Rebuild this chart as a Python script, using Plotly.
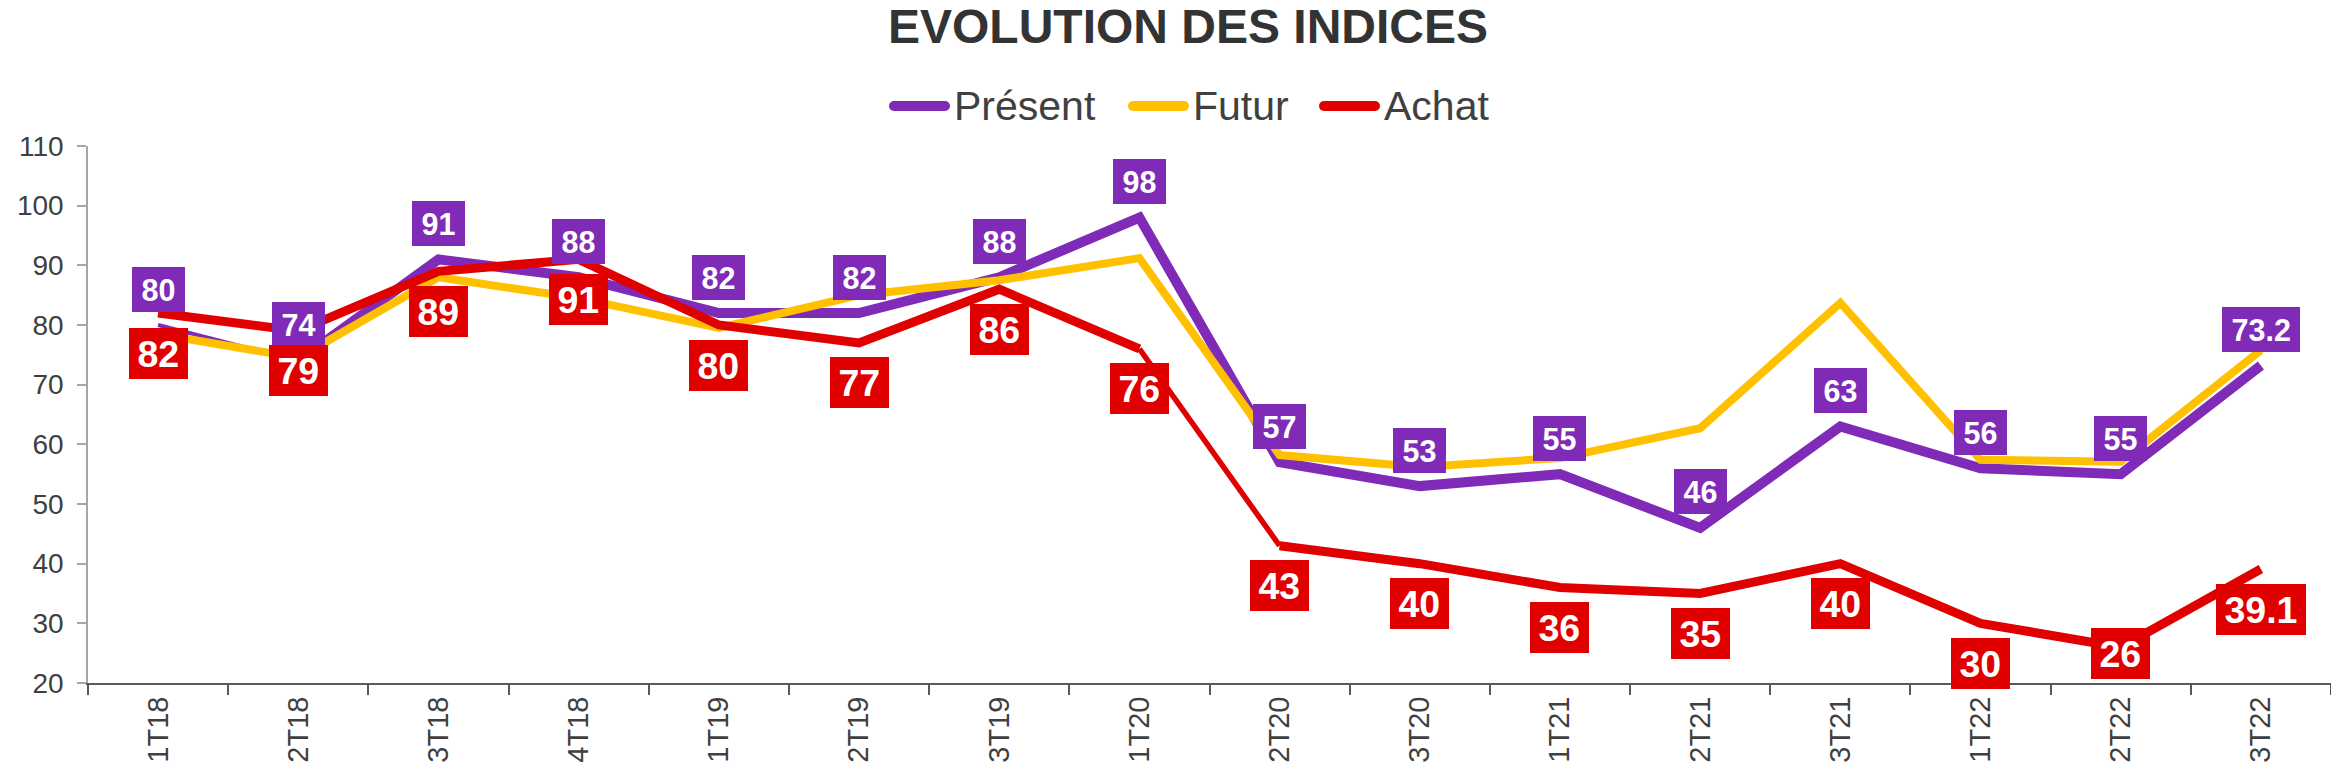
import plotly.graph_objects as go

# ---------------- data ----------------
categories = ["1T18", "2T18", "3T18", "4T18", "1T19", "2T19", "3T19", "1T20",
              "2T20", "3T20", "1T21", "2T21", "3T21", "1T22", "2T22", "3T22"]
present = [80, 74, 91, 88, 82, 82, 88, 98, 57, 53, 55, 46, 63, 56, 55, 73.2]
futur = [78.5, 74.5, 88, 84.5, 79.5, 85, 87.5, 91.2, 58.2, 56.2, 57.7, 62.7, 83.7, 57.4, 57.1, 75.8]
achat = [82, 79, 89, 91, 80, 77, 86, 76, 43, 40, 36, 35, 40, 30, 26, 39.1]
series_names = ["Présent", "Futur", "Achat"]

y_min, y_max, y_step = 20, 110, 10

# ---------------- style ----------------
W, H = 2331, 778
M = dict(l=88, r=0, t=146, b=95, autoexpand=False)
FONT = "Liberation Sans, Arial, sans-serif"
TXT = "#404040"
C_PRES = "#7F2BB7"
C_FUT = "#FFC000"
C_ACH = "#E00000"
colors = [C_PRES, C_FUT, C_ACH]

fig = go.Figure()


def add_segment(xs, ys, color, width, name):
    fig.add_trace(go.Scatter(x=xs, y=ys, name=name, mode="lines", legendgroup=name,
                             showlegend=False,
                             line=dict(color=color, width=width)))


# Présent: thin first segment, thick afterwards
add_segment(categories[1:], present[1:], C_PRES, 10, series_names[0])
add_segment(categories[0:2], present[0:2], C_PRES, 4, series_names[0])
# Futur
add_segment(categories, futur, C_FUT, 8, series_names[1])
# Achat: thinner segment 1T20 -> 2T20
add_segment(categories[:8], achat[:8], C_ACH, 9, series_names[2])
add_segment(categories[7:9], achat[7:9], C_ACH, 5.5, series_names[2])
add_segment(categories[8:], achat[8:], C_ACH, 9, series_names[2])

plot_h = H - M["t"] - M["b"]
plot_w = W - M["l"] - M["r"]
ppu = plot_h / (y_max - y_min)


def box_width(txt, fs, extra):
    w = 0
    for ch in txt:
        w += 0.278 if ch == "." else 0.556
    return w * fs + extra


annotations = []
shapes = []
# Présent labels (above)
fs_p = 30.5
for c, v in zip(categories, present):
    t = f"{v:g}"
    annotations.append(dict(
        x=c, y=v, xref="x", yref="y", text=f"<b>{t}</b>", showarrow=False,
        font=dict(family=FONT, size=fs_p, color="white"),
        bgcolor=C_PRES, borderpad=0, borderwidth=0,
        width=box_width(t, fs_p, 19), height=45,
        xanchor="center", yanchor="middle", yshift=36))

# Achat labels (below)
fs_a = 37.5
half_box = 26
for c, v in zip(categories, achat):
    t = f"{v:g}"
    shift = -40
    if (v - y_min) * ppu - 40 - half_box < -10:
        shift = -6
    annotations.append(dict(
        x=c, y=v, xref="x", yref="y", text=f"<b>{t}</b>", showarrow=False,
        font=dict(family=FONT, size=fs_a, color="white"),
        bgcolor=C_ACH, borderpad=0, borderwidth=0,
        width=box_width(t, fs_a, 17), height=51,
        xanchor="center", yanchor="middle", yshift=shift))

# Legend (drawn as line + text, Excel-like long symbols)
LEG_X = [889, 1128, 1319]   # left edge of each legend line (px)
LEG_Y = 106                 # vertical centre (px from top)
LEG_LEN = 61
for name, col, lx in zip(series_names, colors, LEG_X):
    shapes.append(dict(type="line", xref="paper", yref="paper",
                       x0=(lx + 5 - M["l"]) / plot_w, x1=(lx + LEG_LEN - 5 - M["l"]) / plot_w,
                       y0=(H - M["b"] - LEG_Y) / plot_h, y1=(H - M["b"] - LEG_Y) / plot_h,
                       line=dict(color=col, width=10)))
    for cx in (lx + 5, lx + LEG_LEN - 5):
        shapes.append(dict(type="circle", xref="paper", yref="paper",
                           x0=(cx - 5 - M["l"]) / plot_w, x1=(cx + 5 - M["l"]) / plot_w,
                           y0=(H - M["b"] - LEG_Y - 5) / plot_h,
                           y1=(H - M["b"] - LEG_Y + 5) / plot_h,
                           fillcolor=col, line=dict(width=0)))
    annotations.append(dict(
        x=(lx + LEG_LEN + 2 - M["l"]) / plot_w, y=(H - M["b"] - LEG_Y) / plot_h,
        xref="paper", yref="paper", text=name, showarrow=False,
        xanchor="left", yanchor="middle",
        font=dict(family=FONT, size=41, color=TXT)))

fig.update_layout(
    width=W, height=H, margin=M,
    paper_bgcolor="white", plot_bgcolor="white",
    font=dict(family=FONT, color=TXT),
    title=dict(text="EVOLUTION DES INDICES", x=1188 / W, xref="container", xanchor="center",
               y=1 - 26 / H, yref="container", yanchor="middle",
               font=dict(family=FONT, size=48, color="#333333", weight="bold")),
    showlegend=False,
    annotations=annotations,
    shapes=shapes,
    xaxis=dict(type="category", categoryorder="array", categoryarray=categories,
               range=[-0.5, len(categories) - 0.5], autorange=False,
               tickson="boundaries", ticks="outside", ticklen=10,
               tickcolor="#595959", tickwidth=1.5, showline=True, linecolor="#595959",
               linewidth=2, showgrid=False, zeroline=False, tickangle=-90,
               tickfont=dict(family=FONT, size=29, color=TXT)),
    yaxis=dict(range=[y_min, y_max], autorange=False, dtick=y_step, tick0=y_min,
               ticks="outside", ticklen=9, ticklabelstandoff=8,
               tickcolor="#a6a6a6", tickwidth=1.5, showline=True, linecolor="#a6a6a6",
               linewidth=1.5, showgrid=False, zeroline=False,
               tickfont=dict(family=FONT, size=28, color=TXT)),
)

fig.write_html("out.html", config={"displayModeBar": False},
               post_script="document.body.style.margin='0px';")
